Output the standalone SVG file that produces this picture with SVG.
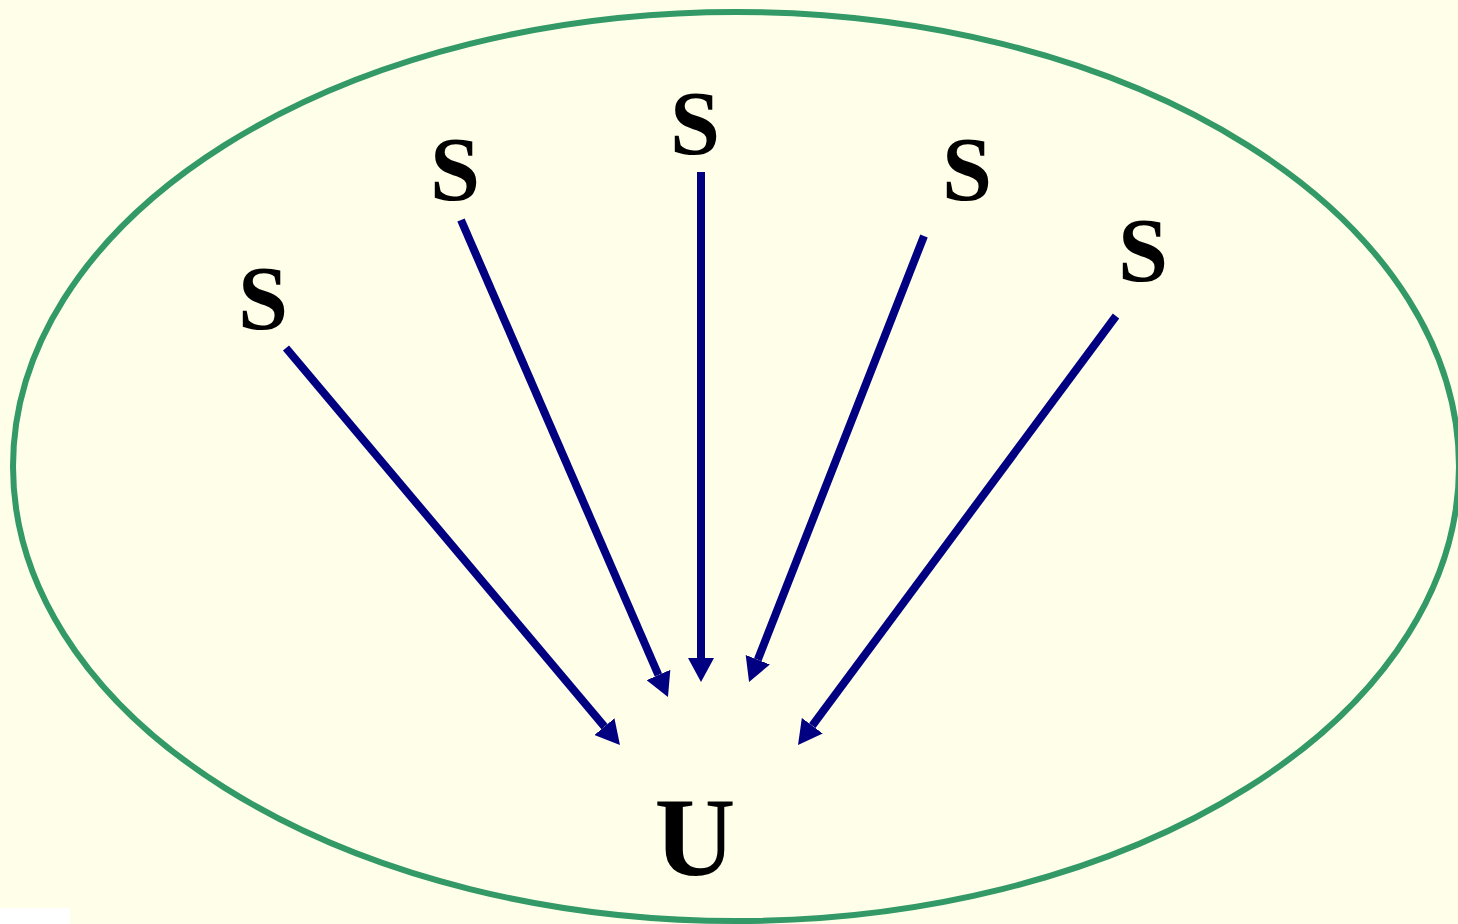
<svg xmlns="http://www.w3.org/2000/svg" width="1458" height="924" viewBox="0 0 1458 924">
<defs>
<style>
.lbl{font-family:"Liberation Serif","Times New Roman",serif;font-weight:bold;fill:#000;text-anchor:middle}
.s{font-size:90px}
.u{font-size:112px}
.arr{stroke:#000080;stroke-width:8;fill:none;marker-end:url(#ah)}
</style>
<marker id="ah" viewBox="0 0 24 26" markerWidth="24" markerHeight="26" refX="0" refY="13" orient="auto" markerUnits="userSpaceOnUse">
<path d="M0,0 L24,13 L0,26 z" fill="#000080"/>
</marker>
</defs>
<rect x="0" y="0" width="1458" height="924" fill="#FFFFE9"/>
<rect x="0" y="908" width="70" height="16" fill="#FFFFFF"/>
<ellipse id="boundary" cx="736" cy="466.5" rx="723" ry="454.5" fill="none" stroke="#339966" stroke-width="6"/>
<g id="connectors">
<line class="arr" x1="286" y1="348" x2="604.5" y2="726.6"/>
<line class="arr" x1="461" y1="220" x2="658.4" y2="675"/>
<line class="arr" x1="701" y1="172" x2="701" y2="658"/>
<line class="arr" x1="924" y1="236" x2="757.8" y2="659.7"/>
<line class="arr" x1="1116" y1="316" x2="812.3" y2="725.7"/>
</g>
<g id="s1"><text class="lbl s" x="263" y="329">S</text></g>
<g id="s2"><text class="lbl s" x="455" y="200">S</text></g>
<g id="s3"><text class="lbl s" x="695" y="154">S</text></g>
<g id="s4"><text class="lbl s" x="967" y="200">S</text></g>
<g id="s5"><text class="lbl s" x="1143" y="281">S</text></g>
<g id="u"><text class="lbl u" x="695" y="875">U</text></g>
</svg>
